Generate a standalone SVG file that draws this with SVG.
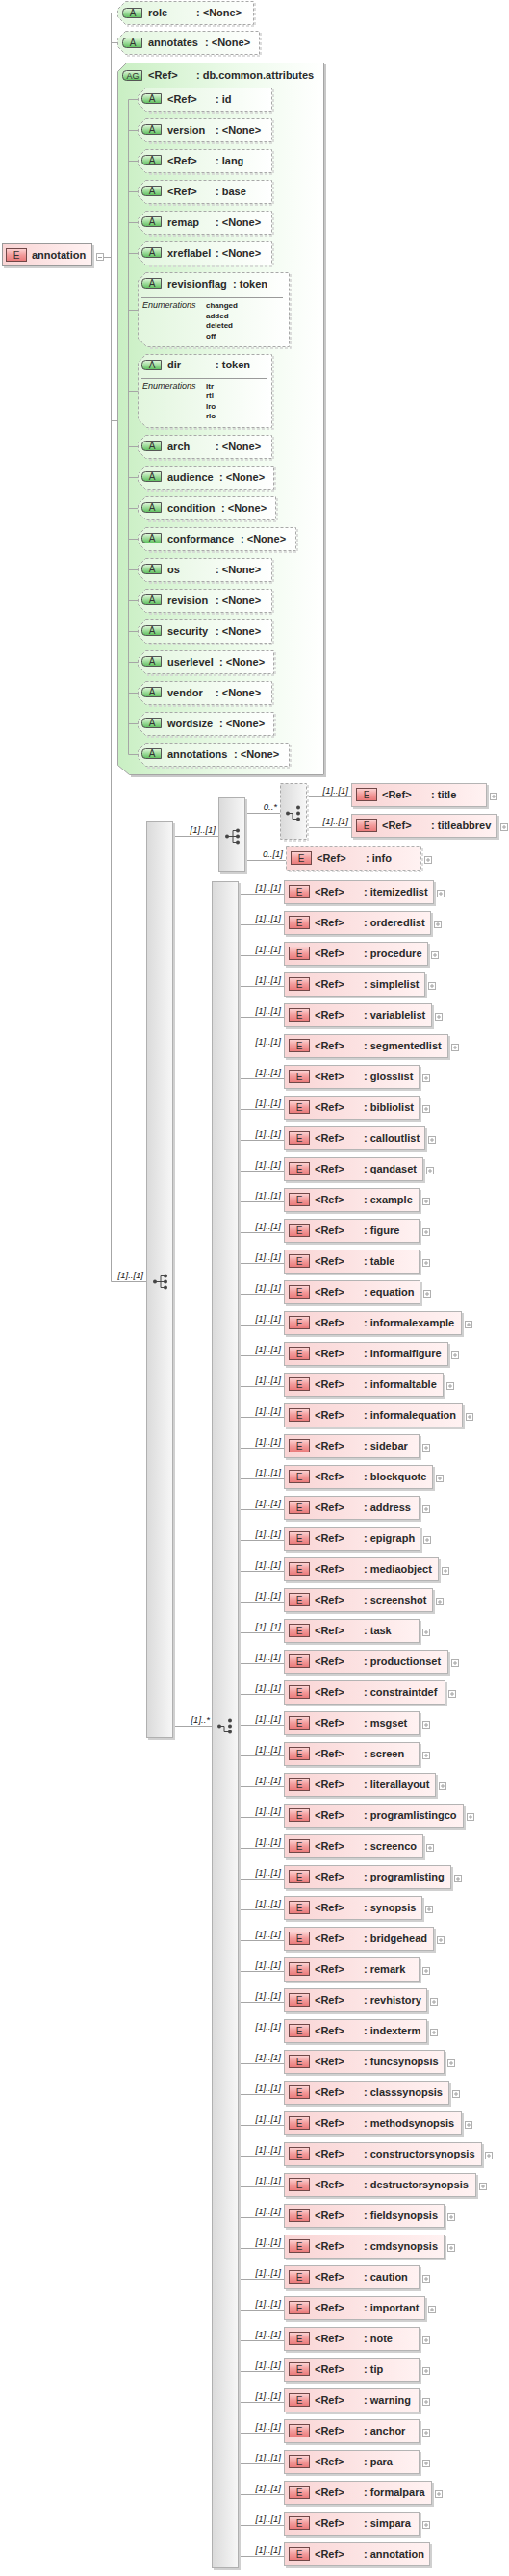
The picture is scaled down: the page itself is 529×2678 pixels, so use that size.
<svg xmlns="http://www.w3.org/2000/svg" xmlns:xlink="http://www.w3.org/1999/xlink" width="529" height="2678" viewBox="0 0 529 2678">
<defs>
<linearGradient id="gE" x1="0" y1="0" x2="1" y2="0"><stop offset="0" stop-color="#f9d4d4"/><stop offset="1" stop-color="#fff2f2"/></linearGradient>
<linearGradient id="gEi" x1="0" y1="0" x2="0" y2="1"><stop offset="0" stop-color="#fcd6d6"/><stop offset="0.5" stop-color="#f39c9c"/><stop offset="1" stop-color="#e97878"/></linearGradient>
<linearGradient id="gA" x1="0" y1="0" x2="1" y2="0"><stop offset="0" stop-color="#e2f6de"/><stop offset="1" stop-color="#ffffff"/></linearGradient>
<linearGradient id="gAi" x1="0" y1="0" x2="0" y2="1"><stop offset="0" stop-color="#e2f8dc"/><stop offset="1" stop-color="#5cbf5c"/></linearGradient>
<linearGradient id="gAG" x1="0" y1="0" x2="1" y2="0"><stop offset="0" stop-color="#c9efc3"/><stop offset="0.6" stop-color="#eefbec"/><stop offset="1" stop-color="#ffffff"/></linearGradient>
<linearGradient id="gC" x1="0" y1="0" x2="1" y2="0"><stop offset="0" stop-color="#dadada"/><stop offset="1" stop-color="#f7f7f7"/></linearGradient>
<g id="eI"><rect class="ei" x="0.5" y="0.5" width="21" height="13"/></g>
<g id="aI"><path class="ai" d="M4.5,0.5 H20.5 V10.5 H4.5 Q0.5,10.5 0.5,6.5 V4.5 Q0.5,0.5 4.5,0.5 Z"/></g>
<g id="pl"><rect class="pl" x="0.5" y="0.5" width="7" height="7"/><path class="plx" d="M2,4 H6 M4,2 V6"/></g>
<g id="sq"><path class="ico" d="M-6,0 H0 M0,-6 V6 M0,-6 H5 M0,0 H5 M0,6 H5"/><circle class="dot" cx="-6" cy="0" r="2"/><circle class="dot" cx="5" cy="-6" r="2"/><circle class="dot" cx="5" cy="0" r="2"/><circle class="dot" cx="5" cy="6" r="2"/></g>
<g id="ch"><path class="ico" d="M-6,0 H-1 V6 H5"/><circle class="dot" cx="-6" cy="0" r="2"/><circle class="dot" cx="5" cy="-6" r="2"/><circle class="dot" cx="5" cy="0" r="2"/><circle class="dot" cx="5" cy="6" r="2"/></g>
</defs>
<style>
.t{font-family:"Liberation Sans",Arial,sans-serif;font-weight:bold;font-size:11px;fill:#2a2a2a}
.ic{font-family:"Liberation Sans",Arial,sans-serif;font-size:10px;fill:#333;text-anchor:middle}
.ig{font-family:"Liberation Sans",Arial,sans-serif;font-size:9px;fill:#333;text-anchor:middle}
.m{font-family:"Liberation Sans",Arial,sans-serif;font-style:italic;font-size:9.5px;fill:#222;text-anchor:end}
.en{font-family:"Liberation Sans",Arial,sans-serif;font-style:italic;font-size:9px;fill:#222}
.ev{font-family:"Liberation Sans",Arial,sans-serif;font-weight:bold;font-size:8px;fill:#222}
.ln{stroke:#a6a6a6;stroke-width:1;fill:none}
.sh{fill:#d0d0d0}
.eb{fill:url(#gE);stroke:#b4b4b4}
.rb{fill:url(#gE);stroke:#9a9a9a}
.ei{fill:url(#gEi);stroke:#704848}
.ab{fill:url(#gA);stroke:#a8a8a8;stroke-dasharray:3 2}
.ash{fill:none;stroke:#d2d2d2;stroke-width:1.5;stroke-dasharray:3 2}
.agb{fill:url(#gAG);stroke:#a5a5a5}
.agsh{fill:none;stroke:#c8c8c8;stroke-width:2}
.ai{fill:url(#gAi);stroke:#555}
.pl{fill:#fff;stroke:#b0b0b0}
.plx{stroke:#a0a0a0;fill:none}
.cb{fill:url(#gC);stroke:#b0b0b0}
.cbd{fill:url(#gC);stroke:#a8a8a8;stroke-dasharray:3 2}
.ebd{fill:url(#gE);stroke:#b0b0b0;stroke-dasharray:3 2}
.dot{fill:#454545}
.ico{stroke:#454545;fill:none}
.sep{stroke:#9a9a9a}
</style>
<rect x="0" y="0" width="529" height="2678" fill="#ffffff"/>

<g id="ag-db.common.attributes">
<path class="agsh" d="M338,67 V807 H136"/>
<path class="agb" d="M131.5,65.5 H336.5 V805.5 H134.5 L122.5,795.5 V74.5 Z"/>
<use href="#aI" x="127" y="73"/><text class="ig" x="138" y="82">AG</text>
<text class="t" x="154" y="82">&lt;Ref&gt;</text><text class="t" x="204" y="82">: db.common.attributes</text>
</g>

<g id="connectors">
<path class="ln" d="M108,267.5 H115.5 M115.5,13.5 V1332.5 M115.5,13.5 H122 M115.5,44.5 H122 M115.5,437.5 H122 M115.5,1332.5 H152"/>
<path class="ln" d="M133.5,103.5 V784.5 M133.5,103.5 H143 M133.5,135.5 H143 M133.5,167.5 H143 M133.5,199.5 H143 M133.5,231.5 H143 M133.5,263.5 H143 M133.5,322.5 H143 M133.5,407.5 H143 M133.5,464.5 H143 M133.5,496.5 H143 M133.5,528.5 H143 M133.5,560.5 H143 M133.5,592.5 H143 M133.5,624.5 H143 M133.5,656.5 H143 M133.5,688.5 H143 M133.5,720.5 H143 M133.5,752.5 H143 M133.5,784.5 H143"/>
<path class="ln" d="M182,869.5 H227 M257,845.5 H291 M257,894.5 H297 M321,828.5 H365 M321,860.5 H365 M182,1794.5 H220"/>
<path class="ln" d="M250,929.5 H295 M250,961.5 H295 M250,993.5 H295 M250,1025.5 H295 M250,1057.5 H295 M250,1089.5 H295 M250,1121.5 H295 M250,1153.5 H295 M250,1185.5 H295 M250,1217.5 H295 M250,1249.5 H295 M250,1281.5 H295 M250,1313.5 H295 M250,1345.5 H295 M250,1377.5 H295 M250,1409.5 H295 M250,1441.5 H295 M250,1473.5 H295 M250,1505.5 H295 M250,1537.5 H295 M250,1569.5 H295 M250,1601.5 H295 M250,1633.5 H295 M250,1665.5 H295 M250,1697.5 H295 M250,1729.5 H295 M250,1761.5 H295 M250,1793.5 H295 M250,1825.5 H295 M250,1857.5 H295 M250,1889.5 H295 M250,1921.5 H295 M250,1953.5 H295 M250,1985.5 H295 M250,2017.5 H295 M250,2049.5 H295 M250,2081.5 H295 M250,2113.5 H295 M250,2145.5 H295 M250,2177.5 H295 M250,2209.5 H295 M250,2241.5 H295 M250,2273.5 H295 M250,2305.5 H295 M250,2337.5 H295 M250,2369.5 H295 M250,2401.5 H295 M250,2433.5 H295 M250,2465.5 H295 M250,2497.5 H295 M250,2529.5 H295 M250,2561.5 H295 M250,2593.5 H295 M250,2625.5 H295 M250,2657.5 H295"/>
<text class="m" x="149" y="1329">[1]..[1]</text>
<text class="m" x="224" y="866">[1]..[1]</text>
<text class="m" x="288" y="842">0..*</text>
<text class="m" x="294" y="891">0..[1]</text>
<text class="m" x="362" y="825">[1]..[1]</text>
<text class="m" x="362" y="857">[1]..[1]</text>
<text class="m" x="218" y="1791">[1]..*</text>
<text class="m" x="292" y="926">[1]..[1]</text><text class="m" x="292" y="958">[1]..[1]</text><text class="m" x="292" y="990">[1]..[1]</text><text class="m" x="292" y="1022">[1]..[1]</text><text class="m" x="292" y="1054">[1]..[1]</text><text class="m" x="292" y="1086">[1]..[1]</text><text class="m" x="292" y="1118">[1]..[1]</text><text class="m" x="292" y="1150">[1]..[1]</text><text class="m" x="292" y="1182">[1]..[1]</text><text class="m" x="292" y="1214">[1]..[1]</text><text class="m" x="292" y="1246">[1]..[1]</text><text class="m" x="292" y="1278">[1]..[1]</text><text class="m" x="292" y="1310">[1]..[1]</text><text class="m" x="292" y="1342">[1]..[1]</text><text class="m" x="292" y="1374">[1]..[1]</text><text class="m" x="292" y="1406">[1]..[1]</text><text class="m" x="292" y="1438">[1]..[1]</text><text class="m" x="292" y="1470">[1]..[1]</text><text class="m" x="292" y="1502">[1]..[1]</text><text class="m" x="292" y="1534">[1]..[1]</text><text class="m" x="292" y="1566">[1]..[1]</text><text class="m" x="292" y="1598">[1]..[1]</text><text class="m" x="292" y="1630">[1]..[1]</text><text class="m" x="292" y="1662">[1]..[1]</text><text class="m" x="292" y="1694">[1]..[1]</text><text class="m" x="292" y="1726">[1]..[1]</text><text class="m" x="292" y="1758">[1]..[1]</text><text class="m" x="292" y="1790">[1]..[1]</text><text class="m" x="292" y="1822">[1]..[1]</text><text class="m" x="292" y="1854">[1]..[1]</text><text class="m" x="292" y="1886">[1]..[1]</text><text class="m" x="292" y="1918">[1]..[1]</text><text class="m" x="292" y="1950">[1]..[1]</text><text class="m" x="292" y="1982">[1]..[1]</text><text class="m" x="292" y="2014">[1]..[1]</text><text class="m" x="292" y="2046">[1]..[1]</text><text class="m" x="292" y="2078">[1]..[1]</text><text class="m" x="292" y="2110">[1]..[1]</text><text class="m" x="292" y="2142">[1]..[1]</text><text class="m" x="292" y="2174">[1]..[1]</text><text class="m" x="292" y="2206">[1]..[1]</text><text class="m" x="292" y="2238">[1]..[1]</text><text class="m" x="292" y="2270">[1]..[1]</text><text class="m" x="292" y="2302">[1]..[1]</text><text class="m" x="292" y="2334">[1]..[1]</text><text class="m" x="292" y="2366">[1]..[1]</text><text class="m" x="292" y="2398">[1]..[1]</text><text class="m" x="292" y="2430">[1]..[1]</text><text class="m" x="292" y="2462">[1]..[1]</text><text class="m" x="292" y="2494">[1]..[1]</text><text class="m" x="292" y="2526">[1]..[1]</text><text class="m" x="292" y="2558">[1]..[1]</text><text class="m" x="292" y="2590">[1]..[1]</text><text class="m" x="292" y="2622">[1]..[1]</text><text class="m" x="292" y="2654">[1]..[1]</text>
</g>

<g id="root-annotation">
<rect class="sh" x="4" y="255" width="94" height="24"/>
<rect class="rb" x="2.5" y="253.5" width="93" height="23"/>
<use href="#eI" x="6" y="258"/><text class="ic" x="17" y="269">E</text>
<text class="t" x="33" y="269">annotation</text>
<rect class="pl" x="100.5" y="263.5" width="7" height="7"/><path class="plx" d="M102,267.5 H106"/>
</g>

<g id="a-role">
<path class="ash" d="M265,3 V27 H132"/>
<path class="ab" d="M130.5,1.5 H263.5 V25.5 H130.5 L122.5,17.5 V9.5 Z"/>
<use href="#aI" x="127" y="8"/><text class="ic" x="138" y="17">A</text>
<text class="t" x="154" y="17">role</text><text class="t" x="204" y="17">: &lt;None&gt;</text>
</g>
<g id="a-annotates">
<path class="ash" d="M271,34 V58 H132"/>
<path class="ab" d="M130.5,32.5 H269.5 V56.5 H130.5 L122.5,48.5 V40.5 Z"/>
<use href="#aI" x="127" y="39"/><text class="ic" x="138" y="48">A</text>
<text class="t" x="154" y="48">annotates</text><text class="t" x="213" y="48">: &lt;None&gt;</text>
</g>

<g id="a-id">
<path class="ash" d="M284,93 V117 H153"/>
<path class="ab" d="M151.5,91.5 H282.5 V115.5 H151.5 L143.5,107.5 V99.5 Z"/>
<use href="#aI" x="147" y="97"/><text class="ic" x="158" y="106">A</text>
<text class="t" x="174" y="107">&lt;Ref&gt;</text><text class="t" x="224" y="107">: id</text>
</g>
<g id="a-version">
<path class="ash" d="M284,125 V149 H153"/>
<path class="ab" d="M151.5,123.5 H282.5 V147.5 H151.5 L143.5,139.5 V131.5 Z"/>
<use href="#aI" x="147" y="129"/><text class="ic" x="158" y="138">A</text>
<text class="t" x="174" y="139">version</text><text class="t" x="224" y="139">: &lt;None&gt;</text>
</g>
<g id="a-lang">
<path class="ash" d="M284,157 V181 H153"/>
<path class="ab" d="M151.5,155.5 H282.5 V179.5 H151.5 L143.5,171.5 V163.5 Z"/>
<use href="#aI" x="147" y="161"/><text class="ic" x="158" y="170">A</text>
<text class="t" x="174" y="171">&lt;Ref&gt;</text><text class="t" x="224" y="171">: lang</text>
</g>
<g id="a-base">
<path class="ash" d="M284,189 V213 H153"/>
<path class="ab" d="M151.5,187.5 H282.5 V211.5 H151.5 L143.5,203.5 V195.5 Z"/>
<use href="#aI" x="147" y="193"/><text class="ic" x="158" y="202">A</text>
<text class="t" x="174" y="203">&lt;Ref&gt;</text><text class="t" x="224" y="203">: base</text>
</g>
<g id="a-remap">
<path class="ash" d="M284,221 V245 H153"/>
<path class="ab" d="M151.5,219.5 H282.5 V243.5 H151.5 L143.5,235.5 V227.5 Z"/>
<use href="#aI" x="147" y="225"/><text class="ic" x="158" y="234">A</text>
<text class="t" x="174" y="235">remap</text><text class="t" x="224" y="235">: &lt;None&gt;</text>
</g>
<g id="a-xreflabel">
<path class="ash" d="M284,253 V277 H153"/>
<path class="ab" d="M151.5,251.5 H282.5 V275.5 H151.5 L143.5,267.5 V259.5 Z"/>
<use href="#aI" x="147" y="257"/><text class="ic" x="158" y="266">A</text>
<text class="t" x="174" y="267">xreflabel</text><text class="t" x="224" y="267">: &lt;None&gt;</text>
</g>
<g id="a-revisionflag">
<path class="ash" d="M302,285 V362 H154"/>
<path class="ab" d="M151.5,283.5 H300.5 V360.5 H152.5 L143.5,352 V292 Z"/>
<use href="#aI" x="147" y="289"/><text class="ic" x="158" y="298">A</text>
<text class="t" x="174" y="299">revisionflag</text><text class="t" x="242" y="299">: token</text>
<path class="sep" d="M147,309.5 H294"/>
<text class="en" x="148" y="320">Enumerations</text>
<text class="ev" x="214" y="320">changed</text>
<text class="ev" x="214" y="330.5">added</text>
<text class="ev" x="214" y="341">deleted</text>
<text class="ev" x="214" y="351.5">off</text>
</g>
<g id="a-dir">
<path class="ash" d="M284,370 V446 H154"/>
<path class="ab" d="M151.5,368.5 H282.5 V444.5 H152.5 L143.5,436 V377 Z"/>
<use href="#aI" x="147" y="374"/><text class="ic" x="158" y="383">A</text>
<text class="t" x="174" y="383">dir</text><text class="t" x="224" y="383">: token</text>
<path class="sep" d="M147,393.5 H277"/>
<text class="en" x="148" y="404">Enumerations</text>
<text class="ev" x="214" y="404">ltr</text>
<text class="ev" x="214" y="414.3">rtl</text>
<text class="ev" x="214" y="424.6">lro</text>
<text class="ev" x="214" y="435">rlo</text>
</g>
<g id="a-arch">
<path class="ash" d="M284,454 V478 H153"/>
<path class="ab" d="M151.5,452.5 H282.5 V476.5 H151.5 L143.5,468.5 V460.5 Z"/>
<use href="#aI" x="147" y="458"/><text class="ic" x="158" y="467">A</text>
<text class="t" x="174" y="468">arch</text><text class="t" x="224" y="468">: &lt;None&gt;</text>
</g>
<g id="a-audience">
<path class="ash" d="M286,486 V510 H153"/>
<path class="ab" d="M151.5,484.5 H284.5 V508.5 H151.5 L143.5,500.5 V492.5 Z"/>
<use href="#aI" x="147" y="490"/><text class="ic" x="158" y="499">A</text>
<text class="t" x="174" y="500">audience</text><text class="t" x="228" y="500">: &lt;None&gt;</text>
</g>
<g id="a-condition">
<path class="ash" d="M288,518 V542 H153"/>
<path class="ab" d="M151.5,516.5 H286.5 V540.5 H151.5 L143.5,532.5 V524.5 Z"/>
<use href="#aI" x="147" y="522"/><text class="ic" x="158" y="531">A</text>
<text class="t" x="174" y="532">condition</text><text class="t" x="230" y="532">: &lt;None&gt;</text>
</g>
<g id="a-conformance">
<path class="ash" d="M309,550 V574 H153"/>
<path class="ab" d="M151.5,548.5 H307.5 V572.5 H151.5 L143.5,564.5 V556.5 Z"/>
<use href="#aI" x="147" y="554"/><text class="ic" x="158" y="563">A</text>
<text class="t" x="174" y="564">conformance</text><text class="t" x="250" y="564">: &lt;None&gt;</text>
</g>
<g id="a-os">
<path class="ash" d="M284,582 V606 H153"/>
<path class="ab" d="M151.5,580.5 H282.5 V604.5 H151.5 L143.5,596.5 V588.5 Z"/>
<use href="#aI" x="147" y="586"/><text class="ic" x="158" y="595">A</text>
<text class="t" x="174" y="596">os</text><text class="t" x="224" y="596">: &lt;None&gt;</text>
</g>
<g id="a-revision">
<path class="ash" d="M284,614 V638 H153"/>
<path class="ab" d="M151.5,612.5 H282.5 V636.5 H151.5 L143.5,628.5 V620.5 Z"/>
<use href="#aI" x="147" y="618"/><text class="ic" x="158" y="627">A</text>
<text class="t" x="174" y="628">revision</text><text class="t" x="224" y="628">: &lt;None&gt;</text>
</g>
<g id="a-security">
<path class="ash" d="M284,646 V670 H153"/>
<path class="ab" d="M151.5,644.5 H282.5 V668.5 H151.5 L143.5,660.5 V652.5 Z"/>
<use href="#aI" x="147" y="650"/><text class="ic" x="158" y="659">A</text>
<text class="t" x="174" y="660">security</text><text class="t" x="224" y="660">: &lt;None&gt;</text>
</g>
<g id="a-userlevel">
<path class="ash" d="M286,678 V702 H153"/>
<path class="ab" d="M151.5,676.5 H284.5 V700.5 H151.5 L143.5,692.5 V684.5 Z"/>
<use href="#aI" x="147" y="682"/><text class="ic" x="158" y="691">A</text>
<text class="t" x="174" y="692">userlevel</text><text class="t" x="228" y="692">: &lt;None&gt;</text>
</g>
<g id="a-vendor">
<path class="ash" d="M284,710 V734 H153"/>
<path class="ab" d="M151.5,708.5 H282.5 V732.5 H151.5 L143.5,724.5 V716.5 Z"/>
<use href="#aI" x="147" y="714"/><text class="ic" x="158" y="723">A</text>
<text class="t" x="174" y="724">vendor</text><text class="t" x="224" y="724">: &lt;None&gt;</text>
</g>
<g id="a-wordsize">
<path class="ash" d="M286,742 V766 H153"/>
<path class="ab" d="M151.5,740.5 H284.5 V764.5 H151.5 L143.5,756.5 V748.5 Z"/>
<use href="#aI" x="147" y="746"/><text class="ic" x="158" y="755">A</text>
<text class="t" x="174" y="756">wordsize</text><text class="t" x="228" y="756">: &lt;None&gt;</text>
</g>
<g id="a-annotations">
<path class="ash" d="M302,774 V798 H153"/>
<path class="ab" d="M151.5,772.5 H300.5 V796.5 H151.5 L143.5,788.5 V780.5 Z"/>
<use href="#aI" x="147" y="778"/><text class="ic" x="158" y="787">A</text>
<text class="t" x="174" y="788">annotations</text><text class="t" x="243" y="788">: &lt;None&gt;</text>
</g>

<g id="seq-outer">
<rect class="sh" x="154" y="856" width="28" height="953"/>
<rect class="cb" x="152.5" y="854.5" width="27" height="952"/>
<use href="#sq" x="167" y="1332.5"/>
</g>
<g id="seq-inner">
<rect class="sh" x="229" y="831" width="28" height="78"/>
<rect class="cb" x="227.5" y="829.5" width="27" height="77"/>
<use href="#sq" x="242" y="869.5"/>
</g>
<g id="choice-title">
<path class="ash" d="M320,816 V874 H293"/>
<rect class="cbd" x="291.5" y="814.5" width="27" height="58"/>
<use href="#ch" x="305" y="845.5"/>
</g>
<g id="choice-main">
<rect class="sh" x="222" y="918" width="28" height="1754"/>
<rect class="cb" x="220.5" y="916.5" width="27" height="1753"/>
<use href="#ch" x="234" y="1794.5"/>
</g>

<g id="e-title">
<rect class="sh" x="367" y="816" width="141" height="25"/><rect class="eb" x="365.5" y="814.5" width="140" height="24"/>
<use href="#eI" x="370" y="819"/><text class="ic" x="381" y="830">E</text>
<text class="t" x="397" y="830">&lt;Ref&gt;</text><text class="t" x="448" y="830">: title</text>
<use href="#pl" x="509" y="824"/>
</g>
<g id="e-titleabbrev">
<rect class="sh" x="367" y="848" width="152" height="25"/><rect class="eb" x="365.5" y="846.5" width="151" height="24"/>
<use href="#eI" x="370" y="851"/><text class="ic" x="381" y="862">E</text>
<text class="t" x="397" y="862">&lt;Ref&gt;</text><text class="t" x="448" y="862">: titleabbrev</text>
<use href="#pl" x="520" y="856"/>
</g>
<g id="e-info">
<path class="ash" d="M439,882 V906 H299"/>
<rect class="ebd" x="297.5" y="880.5" width="140" height="24"/>
<use href="#eI" x="302" y="885"/><text class="ic" x="313" y="896">E</text>
<text class="t" x="329" y="896">&lt;Ref&gt;</text><text class="t" x="380" y="896">: info</text>
<use href="#pl" x="441" y="890"/>
</g>

<g id="e-itemizedlist"><rect class="sh" x="297" y="917" width="156" height="25"/><rect class="eb" x="295.5" y="915.5" width="155" height="24"/><use href="#eI" x="300" y="920"/><text class="ic" x="311" y="931">E</text><text class="t" x="327" y="931">&lt;Ref&gt;</text><text class="t" x="378" y="931">: itemizedlist</text><use href="#pl" x="454" y="925"/></g>
<g id="e-orderedlist"><rect class="sh" x="297" y="949" width="153" height="25"/><rect class="eb" x="295.5" y="947.5" width="152" height="24"/><use href="#eI" x="300" y="952"/><text class="ic" x="311" y="963">E</text><text class="t" x="327" y="963">&lt;Ref&gt;</text><text class="t" x="378" y="963">: orderedlist</text><use href="#pl" x="451" y="957"/></g>
<g id="e-procedure"><rect class="sh" x="297" y="981" width="150" height="25"/><rect class="eb" x="295.5" y="979.5" width="149" height="24"/><use href="#eI" x="300" y="984"/><text class="ic" x="311" y="995">E</text><text class="t" x="327" y="995">&lt;Ref&gt;</text><text class="t" x="378" y="995">: procedure</text><use href="#pl" x="448" y="989"/></g>
<g id="e-simplelist"><rect class="sh" x="297" y="1013" width="147" height="25"/><rect class="eb" x="295.5" y="1011.5" width="146" height="24"/><use href="#eI" x="300" y="1016"/><text class="ic" x="311" y="1027">E</text><text class="t" x="327" y="1027">&lt;Ref&gt;</text><text class="t" x="378" y="1027">: simplelist</text><use href="#pl" x="445" y="1021"/></g>
<g id="e-variablelist"><rect class="sh" x="297" y="1045" width="154" height="25"/><rect class="eb" x="295.5" y="1043.5" width="153" height="24"/><use href="#eI" x="300" y="1048"/><text class="ic" x="311" y="1059">E</text><text class="t" x="327" y="1059">&lt;Ref&gt;</text><text class="t" x="378" y="1059">: variablelist</text><use href="#pl" x="452" y="1053"/></g>
<g id="e-segmentedlist"><rect class="sh" x="297" y="1077" width="171" height="25"/><rect class="eb" x="295.5" y="1075.5" width="170" height="24"/><use href="#eI" x="300" y="1080"/><text class="ic" x="311" y="1091">E</text><text class="t" x="327" y="1091">&lt;Ref&gt;</text><text class="t" x="378" y="1091">: segmentedlist</text><use href="#pl" x="469" y="1085"/></g>
<g id="e-glosslist"><rect class="sh" x="297" y="1109" width="141" height="25"/><rect class="eb" x="295.5" y="1107.5" width="140" height="24"/><use href="#eI" x="300" y="1112"/><text class="ic" x="311" y="1123">E</text><text class="t" x="327" y="1123">&lt;Ref&gt;</text><text class="t" x="378" y="1123">: glosslist</text><use href="#pl" x="439" y="1117"/></g>
<g id="e-bibliolist"><rect class="sh" x="297" y="1141" width="141" height="25"/><rect class="eb" x="295.5" y="1139.5" width="140" height="24"/><use href="#eI" x="300" y="1144"/><text class="ic" x="311" y="1155">E</text><text class="t" x="327" y="1155">&lt;Ref&gt;</text><text class="t" x="378" y="1155">: bibliolist</text><use href="#pl" x="439" y="1149"/></g>
<g id="e-calloutlist"><rect class="sh" x="297" y="1173" width="147" height="25"/><rect class="eb" x="295.5" y="1171.5" width="146" height="24"/><use href="#eI" x="300" y="1176"/><text class="ic" x="311" y="1187">E</text><text class="t" x="327" y="1187">&lt;Ref&gt;</text><text class="t" x="378" y="1187">: calloutlist</text><use href="#pl" x="445" y="1181"/></g>
<g id="e-qandaset"><rect class="sh" x="297" y="1205" width="145" height="25"/><rect class="eb" x="295.5" y="1203.5" width="144" height="24"/><use href="#eI" x="300" y="1208"/><text class="ic" x="311" y="1219">E</text><text class="t" x="327" y="1219">&lt;Ref&gt;</text><text class="t" x="378" y="1219">: qandaset</text><use href="#pl" x="443" y="1213"/></g>
<g id="e-example"><rect class="sh" x="297" y="1237" width="141" height="25"/><rect class="eb" x="295.5" y="1235.5" width="140" height="24"/><use href="#eI" x="300" y="1240"/><text class="ic" x="311" y="1251">E</text><text class="t" x="327" y="1251">&lt;Ref&gt;</text><text class="t" x="378" y="1251">: example</text><use href="#pl" x="439" y="1245"/></g>
<g id="e-figure"><rect class="sh" x="297" y="1269" width="141" height="25"/><rect class="eb" x="295.5" y="1267.5" width="140" height="24"/><use href="#eI" x="300" y="1272"/><text class="ic" x="311" y="1283">E</text><text class="t" x="327" y="1283">&lt;Ref&gt;</text><text class="t" x="378" y="1283">: figure</text><use href="#pl" x="439" y="1277"/></g>
<g id="e-table"><rect class="sh" x="297" y="1301" width="141" height="25"/><rect class="eb" x="295.5" y="1299.5" width="140" height="24"/><use href="#eI" x="300" y="1304"/><text class="ic" x="311" y="1315">E</text><text class="t" x="327" y="1315">&lt;Ref&gt;</text><text class="t" x="378" y="1315">: table</text><use href="#pl" x="439" y="1309"/></g>
<g id="e-equation"><rect class="sh" x="297" y="1333" width="142" height="25"/><rect class="eb" x="295.5" y="1331.5" width="141" height="24"/><use href="#eI" x="300" y="1336"/><text class="ic" x="311" y="1347">E</text><text class="t" x="327" y="1347">&lt;Ref&gt;</text><text class="t" x="378" y="1347">: equation</text><use href="#pl" x="440" y="1341"/></g>
<g id="e-informalexample"><rect class="sh" x="297" y="1365" width="185" height="25"/><rect class="eb" x="295.5" y="1363.5" width="184" height="24"/><use href="#eI" x="300" y="1368"/><text class="ic" x="311" y="1379">E</text><text class="t" x="327" y="1379">&lt;Ref&gt;</text><text class="t" x="378" y="1379">: informalexample</text><use href="#pl" x="483" y="1373"/></g>
<g id="e-informalfigure"><rect class="sh" x="297" y="1397" width="171" height="25"/><rect class="eb" x="295.5" y="1395.5" width="170" height="24"/><use href="#eI" x="300" y="1400"/><text class="ic" x="311" y="1411">E</text><text class="t" x="327" y="1411">&lt;Ref&gt;</text><text class="t" x="378" y="1411">: informalfigure</text><use href="#pl" x="469" y="1405"/></g>
<g id="e-informaltable"><rect class="sh" x="297" y="1429" width="166" height="25"/><rect class="eb" x="295.5" y="1427.5" width="165" height="24"/><use href="#eI" x="300" y="1432"/><text class="ic" x="311" y="1443">E</text><text class="t" x="327" y="1443">&lt;Ref&gt;</text><text class="t" x="378" y="1443">: informaltable</text><use href="#pl" x="464" y="1437"/></g>
<g id="e-informalequation"><rect class="sh" x="297" y="1461" width="186" height="25"/><rect class="eb" x="295.5" y="1459.5" width="185" height="24"/><use href="#eI" x="300" y="1464"/><text class="ic" x="311" y="1475">E</text><text class="t" x="327" y="1475">&lt;Ref&gt;</text><text class="t" x="378" y="1475">: informalequation</text><use href="#pl" x="484" y="1469"/></g>
<g id="e-sidebar"><rect class="sh" x="297" y="1493" width="141" height="25"/><rect class="eb" x="295.5" y="1491.5" width="140" height="24"/><use href="#eI" x="300" y="1496"/><text class="ic" x="311" y="1507">E</text><text class="t" x="327" y="1507">&lt;Ref&gt;</text><text class="t" x="378" y="1507">: sidebar</text><use href="#pl" x="439" y="1501"/></g>
<g id="e-blockquote"><rect class="sh" x="297" y="1525" width="155" height="25"/><rect class="eb" x="295.5" y="1523.5" width="154" height="24"/><use href="#eI" x="300" y="1528"/><text class="ic" x="311" y="1539">E</text><text class="t" x="327" y="1539">&lt;Ref&gt;</text><text class="t" x="378" y="1539">: blockquote</text><use href="#pl" x="453" y="1533"/></g>
<g id="e-address"><rect class="sh" x="297" y="1557" width="141" height="25"/><rect class="eb" x="295.5" y="1555.5" width="140" height="24"/><use href="#eI" x="300" y="1560"/><text class="ic" x="311" y="1571">E</text><text class="t" x="327" y="1571">&lt;Ref&gt;</text><text class="t" x="378" y="1571">: address</text><use href="#pl" x="439" y="1565"/></g>
<g id="e-epigraph"><rect class="sh" x="297" y="1589" width="142" height="25"/><rect class="eb" x="295.5" y="1587.5" width="141" height="24"/><use href="#eI" x="300" y="1592"/><text class="ic" x="311" y="1603">E</text><text class="t" x="327" y="1603">&lt;Ref&gt;</text><text class="t" x="378" y="1603">: epigraph</text><use href="#pl" x="440" y="1597"/></g>
<g id="e-mediaobject"><rect class="sh" x="297" y="1621" width="161" height="25"/><rect class="eb" x="295.5" y="1619.5" width="160" height="24"/><use href="#eI" x="300" y="1624"/><text class="ic" x="311" y="1635">E</text><text class="t" x="327" y="1635">&lt;Ref&gt;</text><text class="t" x="378" y="1635">: mediaobject</text><use href="#pl" x="459" y="1629"/></g>
<g id="e-screenshot"><rect class="sh" x="297" y="1653" width="155" height="25"/><rect class="eb" x="295.5" y="1651.5" width="154" height="24"/><use href="#eI" x="300" y="1656"/><text class="ic" x="311" y="1667">E</text><text class="t" x="327" y="1667">&lt;Ref&gt;</text><text class="t" x="378" y="1667">: screenshot</text><use href="#pl" x="453" y="1661"/></g>
<g id="e-task"><rect class="sh" x="297" y="1685" width="141" height="25"/><rect class="eb" x="295.5" y="1683.5" width="140" height="24"/><use href="#eI" x="300" y="1688"/><text class="ic" x="311" y="1699">E</text><text class="t" x="327" y="1699">&lt;Ref&gt;</text><text class="t" x="378" y="1699">: task</text><use href="#pl" x="439" y="1693"/></g>
<g id="e-productionset"><rect class="sh" x="297" y="1717" width="171" height="25"/><rect class="eb" x="295.5" y="1715.5" width="170" height="24"/><use href="#eI" x="300" y="1720"/><text class="ic" x="311" y="1731">E</text><text class="t" x="327" y="1731">&lt;Ref&gt;</text><text class="t" x="378" y="1731">: productionset</text><use href="#pl" x="469" y="1725"/></g>
<g id="e-constraintdef"><rect class="sh" x="297" y="1749" width="168" height="25"/><rect class="eb" x="295.5" y="1747.5" width="167" height="24"/><use href="#eI" x="300" y="1752"/><text class="ic" x="311" y="1763">E</text><text class="t" x="327" y="1763">&lt;Ref&gt;</text><text class="t" x="378" y="1763">: constraintdef</text><use href="#pl" x="466" y="1757"/></g>
<g id="e-msgset"><rect class="sh" x="297" y="1781" width="141" height="25"/><rect class="eb" x="295.5" y="1779.5" width="140" height="24"/><use href="#eI" x="300" y="1784"/><text class="ic" x="311" y="1795">E</text><text class="t" x="327" y="1795">&lt;Ref&gt;</text><text class="t" x="378" y="1795">: msgset</text><use href="#pl" x="439" y="1789"/></g>
<g id="e-screen"><rect class="sh" x="297" y="1813" width="141" height="25"/><rect class="eb" x="295.5" y="1811.5" width="140" height="24"/><use href="#eI" x="300" y="1816"/><text class="ic" x="311" y="1827">E</text><text class="t" x="327" y="1827">&lt;Ref&gt;</text><text class="t" x="378" y="1827">: screen</text><use href="#pl" x="439" y="1821"/></g>
<g id="e-literallayout"><rect class="sh" x="297" y="1845" width="158" height="25"/><rect class="eb" x="295.5" y="1843.5" width="157" height="24"/><use href="#eI" x="300" y="1848"/><text class="ic" x="311" y="1859">E</text><text class="t" x="327" y="1859">&lt;Ref&gt;</text><text class="t" x="378" y="1859">: literallayout</text><use href="#pl" x="456" y="1853"/></g>
<g id="e-programlistingco"><rect class="sh" x="297" y="1877" width="187" height="25"/><rect class="eb" x="295.5" y="1875.5" width="186" height="24"/><use href="#eI" x="300" y="1880"/><text class="ic" x="311" y="1891">E</text><text class="t" x="327" y="1891">&lt;Ref&gt;</text><text class="t" x="378" y="1891">: programlistingco</text><use href="#pl" x="485" y="1885"/></g>
<g id="e-screenco"><rect class="sh" x="297" y="1909" width="145" height="25"/><rect class="eb" x="295.5" y="1907.5" width="144" height="24"/><use href="#eI" x="300" y="1912"/><text class="ic" x="311" y="1923">E</text><text class="t" x="327" y="1923">&lt;Ref&gt;</text><text class="t" x="378" y="1923">: screenco</text><use href="#pl" x="443" y="1917"/></g>
<g id="e-programlisting"><rect class="sh" x="297" y="1941" width="174" height="25"/><rect class="eb" x="295.5" y="1939.5" width="173" height="24"/><use href="#eI" x="300" y="1944"/><text class="ic" x="311" y="1955">E</text><text class="t" x="327" y="1955">&lt;Ref&gt;</text><text class="t" x="378" y="1955">: programlisting</text><use href="#pl" x="472" y="1949"/></g>
<g id="e-synopsis"><rect class="sh" x="297" y="1973" width="144" height="25"/><rect class="eb" x="295.5" y="1971.5" width="143" height="24"/><use href="#eI" x="300" y="1976"/><text class="ic" x="311" y="1987">E</text><text class="t" x="327" y="1987">&lt;Ref&gt;</text><text class="t" x="378" y="1987">: synopsis</text><use href="#pl" x="442" y="1981"/></g>
<g id="e-bridgehead"><rect class="sh" x="297" y="2005" width="156" height="25"/><rect class="eb" x="295.5" y="2003.5" width="155" height="24"/><use href="#eI" x="300" y="2008"/><text class="ic" x="311" y="2019">E</text><text class="t" x="327" y="2019">&lt;Ref&gt;</text><text class="t" x="378" y="2019">: bridgehead</text><use href="#pl" x="454" y="2013"/></g>
<g id="e-remark"><rect class="sh" x="297" y="2037" width="141" height="25"/><rect class="eb" x="295.5" y="2035.5" width="140" height="24"/><use href="#eI" x="300" y="2040"/><text class="ic" x="311" y="2051">E</text><text class="t" x="327" y="2051">&lt;Ref&gt;</text><text class="t" x="378" y="2051">: remark</text><use href="#pl" x="439" y="2045"/></g>
<g id="e-revhistory"><rect class="sh" x="297" y="2069" width="149" height="25"/><rect class="eb" x="295.5" y="2067.5" width="148" height="24"/><use href="#eI" x="300" y="2072"/><text class="ic" x="311" y="2083">E</text><text class="t" x="327" y="2083">&lt;Ref&gt;</text><text class="t" x="378" y="2083">: revhistory</text><use href="#pl" x="447" y="2077"/></g>
<g id="e-indexterm"><rect class="sh" x="297" y="2101" width="149" height="25"/><rect class="eb" x="295.5" y="2099.5" width="148" height="24"/><use href="#eI" x="300" y="2104"/><text class="ic" x="311" y="2115">E</text><text class="t" x="327" y="2115">&lt;Ref&gt;</text><text class="t" x="378" y="2115">: indexterm</text><use href="#pl" x="447" y="2109"/></g>
<g id="e-funcsynopsis"><rect class="sh" x="297" y="2133" width="167" height="25"/><rect class="eb" x="295.5" y="2131.5" width="166" height="24"/><use href="#eI" x="300" y="2136"/><text class="ic" x="311" y="2147">E</text><text class="t" x="327" y="2147">&lt;Ref&gt;</text><text class="t" x="378" y="2147">: funcsynopsis</text><use href="#pl" x="465" y="2141"/></g>
<g id="e-classsynopsis"><rect class="sh" x="297" y="2165" width="172" height="25"/><rect class="eb" x="295.5" y="2163.5" width="171" height="24"/><use href="#eI" x="300" y="2168"/><text class="ic" x="311" y="2179">E</text><text class="t" x="327" y="2179">&lt;Ref&gt;</text><text class="t" x="378" y="2179">: classsynopsis</text><use href="#pl" x="470" y="2173"/></g>
<g id="e-methodsynopsis"><rect class="sh" x="297" y="2197" width="185" height="25"/><rect class="eb" x="295.5" y="2195.5" width="184" height="24"/><use href="#eI" x="300" y="2200"/><text class="ic" x="311" y="2211">E</text><text class="t" x="327" y="2211">&lt;Ref&gt;</text><text class="t" x="378" y="2211">: methodsynopsis</text><use href="#pl" x="483" y="2205"/></g>
<g id="e-constructorsynopsis"><rect class="sh" x="297" y="2229" width="206" height="25"/><rect class="eb" x="295.5" y="2227.5" width="205" height="24"/><use href="#eI" x="300" y="2232"/><text class="ic" x="311" y="2243">E</text><text class="t" x="327" y="2243">&lt;Ref&gt;</text><text class="t" x="378" y="2243">: constructorsynopsis</text><use href="#pl" x="504" y="2237"/></g>
<g id="e-destructorsynopsis"><rect class="sh" x="297" y="2261" width="200" height="25"/><rect class="eb" x="295.5" y="2259.5" width="199" height="24"/><use href="#eI" x="300" y="2264"/><text class="ic" x="311" y="2275">E</text><text class="t" x="327" y="2275">&lt;Ref&gt;</text><text class="t" x="378" y="2275">: destructorsynopsis</text><use href="#pl" x="498" y="2269"/></g>
<g id="e-fieldsynopsis"><rect class="sh" x="297" y="2293" width="167" height="25"/><rect class="eb" x="295.5" y="2291.5" width="166" height="24"/><use href="#eI" x="300" y="2296"/><text class="ic" x="311" y="2307">E</text><text class="t" x="327" y="2307">&lt;Ref&gt;</text><text class="t" x="378" y="2307">: fieldsynopsis</text><use href="#pl" x="465" y="2301"/></g>
<g id="e-cmdsynopsis"><rect class="sh" x="297" y="2325" width="167" height="25"/><rect class="eb" x="295.5" y="2323.5" width="166" height="24"/><use href="#eI" x="300" y="2328"/><text class="ic" x="311" y="2339">E</text><text class="t" x="327" y="2339">&lt;Ref&gt;</text><text class="t" x="378" y="2339">: cmdsynopsis</text><use href="#pl" x="465" y="2333"/></g>
<g id="e-caution"><rect class="sh" x="297" y="2357" width="141" height="25"/><rect class="eb" x="295.5" y="2355.5" width="140" height="24"/><use href="#eI" x="300" y="2360"/><text class="ic" x="311" y="2371">E</text><text class="t" x="327" y="2371">&lt;Ref&gt;</text><text class="t" x="378" y="2371">: caution</text><use href="#pl" x="439" y="2365"/></g>
<g id="e-important"><rect class="sh" x="297" y="2389" width="147" height="25"/><rect class="eb" x="295.5" y="2387.5" width="146" height="24"/><use href="#eI" x="300" y="2392"/><text class="ic" x="311" y="2403">E</text><text class="t" x="327" y="2403">&lt;Ref&gt;</text><text class="t" x="378" y="2403">: important</text><use href="#pl" x="445" y="2397"/></g>
<g id="e-note"><rect class="sh" x="297" y="2421" width="141" height="25"/><rect class="eb" x="295.5" y="2419.5" width="140" height="24"/><use href="#eI" x="300" y="2424"/><text class="ic" x="311" y="2435">E</text><text class="t" x="327" y="2435">&lt;Ref&gt;</text><text class="t" x="378" y="2435">: note</text><use href="#pl" x="439" y="2429"/></g>
<g id="e-tip"><rect class="sh" x="297" y="2453" width="141" height="25"/><rect class="eb" x="295.5" y="2451.5" width="140" height="24"/><use href="#eI" x="300" y="2456"/><text class="ic" x="311" y="2467">E</text><text class="t" x="327" y="2467">&lt;Ref&gt;</text><text class="t" x="378" y="2467">: tip</text><use href="#pl" x="439" y="2461"/></g>
<g id="e-warning"><rect class="sh" x="297" y="2485" width="141" height="25"/><rect class="eb" x="295.5" y="2483.5" width="140" height="24"/><use href="#eI" x="300" y="2488"/><text class="ic" x="311" y="2499">E</text><text class="t" x="327" y="2499">&lt;Ref&gt;</text><text class="t" x="378" y="2499">: warning</text><use href="#pl" x="439" y="2493"/></g>
<g id="e-anchor"><rect class="sh" x="297" y="2517" width="141" height="25"/><rect class="eb" x="295.5" y="2515.5" width="140" height="24"/><use href="#eI" x="300" y="2520"/><text class="ic" x="311" y="2531">E</text><text class="t" x="327" y="2531">&lt;Ref&gt;</text><text class="t" x="378" y="2531">: anchor</text><use href="#pl" x="439" y="2525"/></g>
<g id="e-para"><rect class="sh" x="297" y="2549" width="141" height="25"/><rect class="eb" x="295.5" y="2547.5" width="140" height="24"/><use href="#eI" x="300" y="2552"/><text class="ic" x="311" y="2563">E</text><text class="t" x="327" y="2563">&lt;Ref&gt;</text><text class="t" x="378" y="2563">: para</text><use href="#pl" x="439" y="2557"/></g>
<g id="e-formalpara"><rect class="sh" x="297" y="2581" width="154" height="25"/><rect class="eb" x="295.5" y="2579.5" width="153" height="24"/><use href="#eI" x="300" y="2584"/><text class="ic" x="311" y="2595">E</text><text class="t" x="327" y="2595">&lt;Ref&gt;</text><text class="t" x="378" y="2595">: formalpara</text><use href="#pl" x="452" y="2589"/></g>
<g id="e-simpara"><rect class="sh" x="297" y="2613" width="141" height="25"/><rect class="eb" x="295.5" y="2611.5" width="140" height="24"/><use href="#eI" x="300" y="2616"/><text class="ic" x="311" y="2627">E</text><text class="t" x="327" y="2627">&lt;Ref&gt;</text><text class="t" x="378" y="2627">: simpara</text><use href="#pl" x="439" y="2621"/></g>
<g id="e-annotation"><rect class="sh" x="297" y="2645" width="152" height="25"/><rect class="eb" x="295.5" y="2643.5" width="151" height="24"/><use href="#eI" x="300" y="2648"/><text class="ic" x="311" y="2659">E</text><text class="t" x="327" y="2659">&lt;Ref&gt;</text><text class="t" x="378" y="2659">: annotation</text></g>
</svg>
